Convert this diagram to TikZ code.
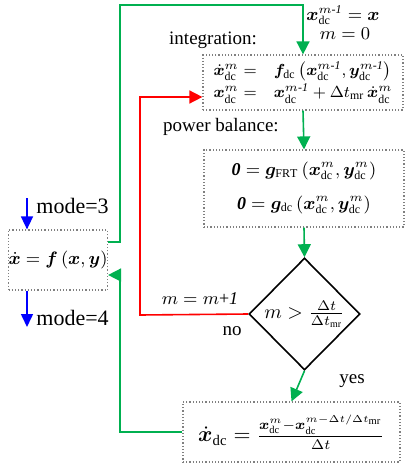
\documentclass[tikz,border=0pt]{standalone}
\usepackage{amsmath}
\usepackage{bm}
\usepackage{fontspec}
\setmainfont{Liberation Serif}
\usetikzlibrary{arrows.meta,shapes.geometric}
\definecolor{gline}{RGB}{0,176,80}
\newcommand{\dc}{\mathrm{dc}}
\newcommand{\mo}{m\text{-}\mathit{1}}
\newcommand{\bz}{\boldsymbol{\mathit{0}}}
\begin{document}
\begin{tikzpicture}[x=0.5pt,y=-0.5pt,
  dbox/.style={draw=gray,densely dotted,line width=0.6pt,inner sep=0pt},
  garrow/.style={draw=gline,line width=0.8pt,-{Triangle[length=6.5pt,width=6.5pt]}},
  rarrow/.style={draw=red,line width=0.8pt,-{Triangle[length=6.5pt,width=6.5pt]}},
  barrow/.style={draw=blue,line width=0.8pt,-{Triangle[length=6.5pt,width=6pt]}},
  lbl/.style={inner sep=0pt,font=\fontsize{9.5}{11}\selectfont},
  mlbl/.style={inner sep=0pt,font=\fontsize{11}{13}\selectfont}]
\useasboundingbox (0,0) rectangle (408,466);
% boxes
\node[dbox,minimum width=100pt,minimum height=27.5pt,font=\fontsize{8.5}{9.5}\selectfont] (box1) at (303,82.5)
 {$\begin{array}{@{}l@{\quad}l@{}}
  \dot{\bm x}^m_{\dc} = & \bm f_{\dc}\left(\bm x^{\mo}_{\dc},\bm y^{\mo}_{\dc}\right)\\[1.5pt]
  \bm x^m_{\dc} = & \bm x^{\mo}_{\dc} + \Delta t_{\mathrm{mr}}\,\dot{\bm x}^m_{\dc}
 \end{array}$};
\node[dbox,minimum width=100pt,minimum height=38.5pt,font=\fontsize{9}{10}\selectfont] (box2) at (304,188.5)
 {$\begin{array}{@{}c@{}}
  \bz = \bm g_{\mathrm{FRT}}\left(\bm x^m_{\dc},\bm y^m_{\dc}\right)\\[7pt]
  \bz = \bm g_{\dc}\left(\bm x^m_{\dc},\bm y^m_{\dc}\right)
 \end{array}$};
\node[draw=black,line width=0.8pt,shape=diamond,minimum width=55.5pt,minimum height=56pt,inner sep=0pt,font=\fontsize{10}{11}\selectfont] (dia) at (304.5,314)
 {$m > \frac{\Delta t}{\Delta t_{\mathrm{mr}}}$};
\node[dbox,minimum width=108.5pt,minimum height=30pt,font=\fontsize{10.5}{12}\selectfont] (box3) at (291.5,432)
 {$\dot{\bm x}_{\dc} = \frac{\bm x^m_{\dc}-\bm x^{m-\Delta t/\Delta t_{\mathrm{mr}}}_{\dc}}{\Delta t}$};
\node[dbox,minimum width=45pt,minimum height=30pt,font=\fontsize{9}{10}\selectfont] (lb) at (58,260)
 {$\dot{\bm x} = \bm f\left(\bm x,\bm y\right)$};
% labels
\node[lbl,font=\fontsize{9}{10}\selectfont] (l1) at (343,15) {$\bm x^{\mo}_{\dc} = \bm x$};
\node[lbl,font=\fontsize{9}{10}\selectfont] (l2) at (345,34) {$m = 0$};
\node[lbl] (l3) at (213,40) {integration:};
\node[lbl] (l4) at (221,127) {power balance:};
\node[lbl,font=\fontsize{9}{10}\selectfont] (l5) at (200,299) {$m = m\text{+}\mathit{1}$};
\node[lbl] (l6) at (232,331) {no};
\node[lbl] (l7) at (352,381) {yes};
\node[mlbl,anchor=west] (l8) at (36,206) {mode=3};
\node[mlbl,anchor=west] (l9) at (36,318) {mode=4};
% connectors
\coordinate (c1) at (120,5);
\coordinate (c2) at (120,432);
\coordinate (c3) at (140,315);
\coordinate (b1) at (27,198);
\coordinate (b2) at (27,327);
\draw[garrow] ([yshift=9pt]lb.east) -| (c1) -| (box1.north);
\draw[garrow] (box1.south) -- (box2.north);
\draw[garrow] (box2.south) -- (dia.north);
\draw[garrow] (dia.south) -- (box3.north);
\draw[garrow] (box3.west) -| (c2) |- ([yshift=-7.5pt]lb.east);
\draw[rarrow] (dia.west) -- (c3) |- ([yshift=-7.25pt]box1.west);
\draw[barrow] (b1) -- (lb.north -| b1);
\draw[barrow] (lb.south -| b1) -- (b2);
\end{tikzpicture}
\end{document}
